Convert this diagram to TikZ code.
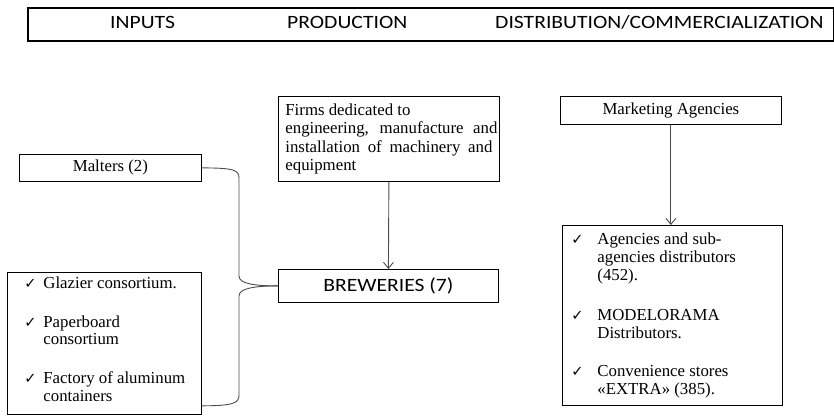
\documentclass[tikz,border=0pt]{standalone}
\usepackage{fontspec}
\setmainfont{Liberation Serif}
\newfontfamily\hdr[FakeStretch=1.15]{Carlito}
\newfontfamily\dejavu{DejaVu Sans}
\usetikzlibrary{arrows.meta,calc}
\newcommand{\chk}[1]{\makebox[#1][l]{\dejavu\fontsize{14.5bp}{14.5bp}\selectfont ✓}}
\begin{document}
\begin{tikzpicture}[x=1bp,y=-1bp,
  box/.style={draw=black,line width=0.8bp,inner sep=0pt,anchor=north west},
  serif/.style={font=\fontsize{16.8bp}{18.3bp}\selectfont},
  hfont/.style={font=\hdr\fontsize{18.8bp}{20bp}\selectfont},
  hlabel/.style={hfont,anchor=base west,inner sep=0pt},
  conn/.style={draw=black!70,line width=0.9bp},
  arr/.style={conn,-{Straight Barb[length=6bp,width=10bp]}}]
\useasboundingbox (0,0) rectangle (834,416);

% banner
\node[draw,line width=2bp,minimum width=806bp,minimum height=33bp,inner sep=0pt,anchor=north west] (banner) at (27,7) {};
\node[hlabel] (hin) at (110,28) {INPUTS};
\node[hlabel] (hpr) at (287,28) {PRODUCTION};
\node[hlabel] (hdi) at (495,28) {DISTRIBUTION/COMMERCIALIZATION};

% inputs
\node[box,serif,minimum width=182bp,minimum height=27bp] (malt) at (19,154) {Malters (2)};
\node[box] (inp) at (7,272) {\begin{minipage}[t][142bp][t]{194bp}\fontsize{16.8bp}{17.3bp}\selectfont
\hspace*{17bp}\chk{19bp}\rule{0pt}{16bp}Glazier consortium.\\[21.7bp]
\hspace*{17bp}\chk{19bp}Paperboard\\
\hspace*{36bp}consortium\\[21.7bp]
\hspace*{17bp}\chk{19bp}Factory of aluminum\\
\hspace*{36bp}containers
\end{minipage}};

% production
\node[box] (firms) at (278,96) {\begin{minipage}[t][85bp][t]{221bp}\fontsize{16.8bp}{18.3bp}\selectfont
\hspace*{7bp}\rule{0pt}{19bp}Firms dedicated to\\
\hspace*{7bp}\makebox[212bp][s]{engineering,  manufacture  and}\\
\hspace*{7bp}\makebox[207bp][s]{installation of machinery and}\\
\hspace*{7bp}equipment
\end{minipage}};
\node[box,hfont,minimum width=220bp,minimum height=33bp] (brew) at (278,269) {BREWERIES (7)};

% distribution
\node[box,serif,minimum width=221bp,minimum height=28bp] (mkt) at (560,96) {Marketing Agencies};
\node[box] (dist) at (562,225) {\begin{minipage}[t][180bp][t]{220bp}\fontsize{16.8bp}{18bp}\selectfont
\hspace*{9bp}\chk{26bp}\rule{0pt}{19bp}Agencies and sub-\\
\hspace*{35bp}agencies distributors\\
\hspace*{35bp}(452).\\[22bp]
\hspace*{9bp}\chk{26bp}MODELORAMA\\
\hspace*{35bp}Distributors.\\[20bp]
\hspace*{9bp}\chk{26bp}Convenience stores\\
\hspace*{35bp}«EXTRA» (385).
\end{minipage}};

% connectors
\coordinate (bend) at ($(inp.south east)+(0,-9)$);
\draw[conn] (malt.east) .. controls +(32,0) and +(0,-8) .. (239,178) -- (239,276)
  .. controls +(0,8) and +(-22,0) .. (brew.west);
\draw[conn] (brew.west) .. controls +(-22,0) and +(0,-8) .. (239,296) -- (239,395)
  .. controls +(0,8) and +(32,0) .. (bend);
\draw[arr] (firms.south) -- (brew.north);
\draw[arr] (mkt.south) -- (mkt.south |- dist.north);
\end{tikzpicture}
\end{document}
